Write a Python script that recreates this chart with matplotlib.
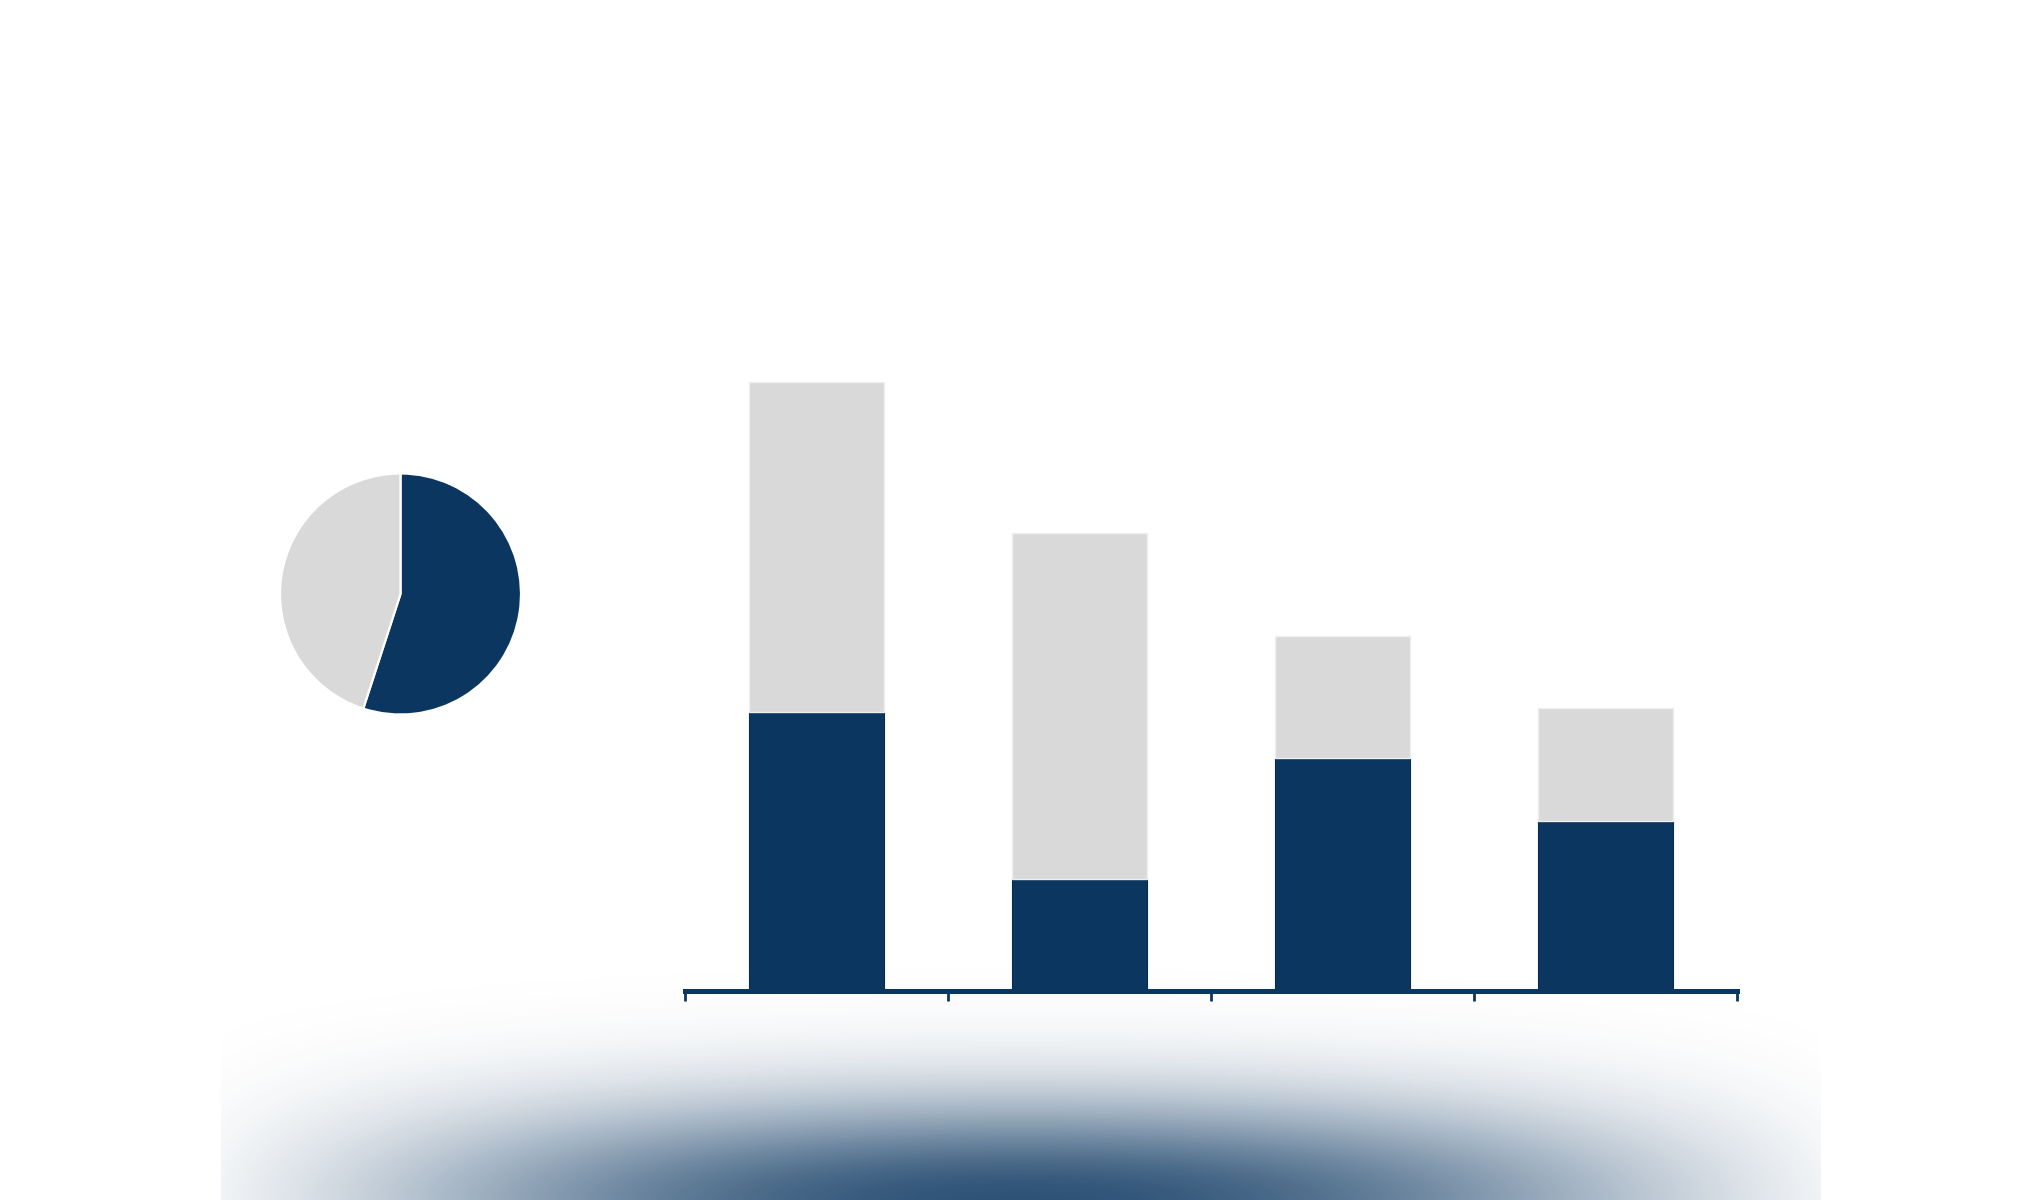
import numpy as np
import matplotlib
matplotlib.use("Agg")
import matplotlib.pyplot as plt

# bar data (no labels shown in the chart)
categories = ["A", "B", "C", "D"]
dark_values = [27.85, 11.2, 23.25, 17.0]
light_values = [33.0, 34.6, 12.2, 11.3]

# pie data
pie_values = [55, 45]

NAVY = "#0b3660"
LIGHT = "#d9d9d9"

W, H, DPI = 2040, 1200, 200


def glow_image():
    # soft navy glow rising from the bottom edge
    xs = np.arange(W, dtype=float)
    ys = np.arange(H, dtype=float)
    gx, gy = np.meshgrid(xs, ys)
    dx = np.abs(gx - 1021)
    dy = 1200 - gy
    fx = np.exp(-(dx / 700.0) ** 2) * np.clip(1 - (dx / 860.0) ** 4, 0, 1)
    fy = np.exp(-(dy / 100.0) ** 2)
    alpha = 0.86 * fx * fy
    alpha[:, :221] = 0
    alpha[:, 1821:] = 0
    img = np.zeros((H, W, 4))
    rgb = matplotlib.colors.to_rgb(NAVY)
    img[..., 0] = rgb[0]
    img[..., 1] = rgb[1]
    img[..., 2] = rgb[2]
    img[..., 3] = alpha
    return img


fig = plt.figure(figsize=(W / DPI, H / DPI), dpi=DPI)
fig.patch.set_facecolor("white")

bg = fig.add_axes([0, 0, 1, 1], zorder=0)
bg.imshow(glow_image(), extent=(0, W, H, 0), interpolation="bilinear", aspect="auto")
bg.set_xlim(0, W)
bg.set_ylim(H, 0)
bg.axis("off")

# stacked bars
base_y = 990.5
ax = fig.add_axes([685 / W, (H - base_y) / H, 1052 / W, 700 / H], zorder=2)
ax.patch.set_alpha(0)
x = np.arange(len(categories))
ax.bar(x, dark_values, width=0.51, color=NAVY, edgecolor="#082c52", linewidth=0.4)
ax.bar(x, light_values, width=0.51, bottom=dark_values, color=LIGHT,
       edgecolor="#efefef", linewidth=0.5)
ax.set_xlim(-0.5, len(categories) - 0.5)
ax.set_ylim(0, 70)
for side in ["top", "right", "left"]:
    ax.spines[side].set_visible(False)
ax.spines["bottom"].set_color(NAVY)
ax.spines["bottom"].set_linewidth(1.8)
ax.set_xticks(np.arange(len(categories) + 1) - 0.5)
ax.set_xticklabels([])
ax.tick_params(axis="x", length=3.5, width=1.0, color=NAVY)
ax.set_yticks([])

# pie
pie_r = 120.5
pax = fig.add_axes([(400.5 - pie_r) / W, (H - 594 - pie_r) / H, 2 * pie_r / W, 2 * pie_r / H],
                   zorder=2)
pax.pie(pie_values, colors=[NAVY, LIGHT], startangle=90, counterclock=False,
        radius=1, wedgeprops=dict(edgecolor="white", linewidth=0.8))
pax.set_xlim(-1.0, 1.0)
pax.set_ylim(-1.0, 1.0)
pax.set_aspect("equal")
pax.axis("off")

fig.savefig("out.png", dpi=DPI, facecolor="white")
